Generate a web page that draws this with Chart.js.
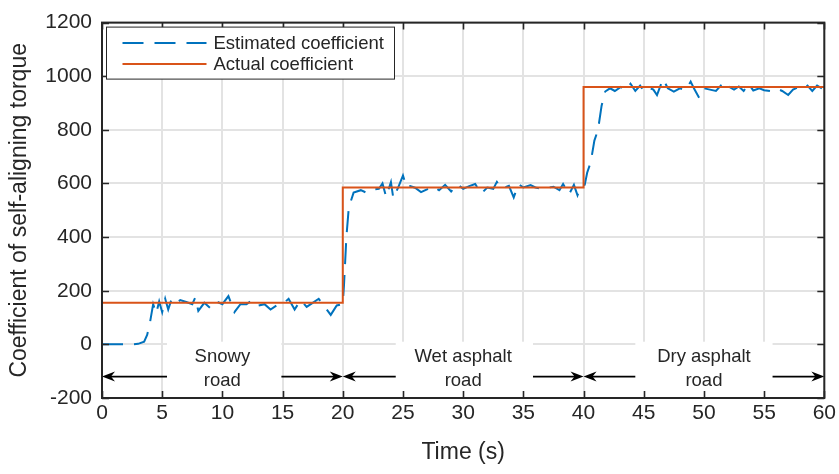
<!DOCTYPE html>
<html>
<head>
<meta charset="utf-8">
<script src="https://cdn.jsdelivr.net/npm/chart.js@4.4.1/dist/chart.umd.min.js"></script>
<style>
  html, body { margin: 0; padding: 0; background: #ffffff; }
  #wrap { width: 839px; height: 474px; position: relative; }
</style>
</head>
<body>
<div id="wrap"><canvas id="c" width="839" height="474"></canvas></div>
<script>
// ---------- data ----------
const estTimes = [0,0.5,1,1.5,2,2.5,3,3.5,3.75,4,4.25,4.5,4.75,5,5.25,5.5,5.75,6,6.5,7,7.5,7.75,8,8.5,9,9.5,10,10.5,11,11.5,12,12.5,13,13.5,14,14.5,15,15.5,16,16.5,17,17.5,18,18.5,19,19.5,20,
  20.1,20.3,20.5,20.9,21.5,22,22.5,23,23.3,23.6,24,24.2,24.6,25,25.3,25.6,26,26.5,27,27.5,28,28.5,29,29.5,30,30.5,31,31.5,32,32.5,32.8,33.2,33.8,34.2,34.6,35,35.6,36,36.5,37,37.5,38,38.3,38.8,39.2,39.5,39.8,40.1,
  40.3,40.6,40.9,41.2,41.5,41.8,42.2,42.6,43.1,43.5,43.9,44.3,44.7,45,45.4,45.8,46.1,46.6,47,47.5,48,48.5,48.9,49.2,49.6,50,50.5,51,51.4,51.7,52.1,52.5,52.9,53.3,53.7,54.1,54.6,55,55.5,56,56.5,57,57.4,57.8,58.2,58.6,59,59.4,59.8,60];
const estValues = [0,0,0,0,0,0,2,10,35,85,150,115,160,120,170,130,165,150,165,158,150,175,125,155,135,160,150,180,120,150,150,165,145,150,130,145,150,170,130,165,140,155,170,140,110,145,150,
  220,400,510,566,575,565,578,580,600,550,605,545,585,630,585,590,584,568,578,590,575,595,570,598,580,590,598,562,585,580,606,580,591,548,598,585,594,585,580,584,588,575,598,560,595,556,591,595,
  640,680,760,800,890,943,955,945,960,948,972,945,965,945,958,950,930,990,955,943,955,948,980,952,920,955,950,945,965,943,960,950,962,945,972,947,955,948,945,955,945,930,950,958,952,965,945,965,955,955];

const actualTimes = [0, 20, 40, 60];
const actualValues = [155, 585, 960, 960];

const xTicks = [0,5,10,15,20,25,30,35,40,45,50,55,60];
const yTicks = [-200,0,200,400,600,800,1000,1200];

const roadBounds = [[0,20],[20,40],[40,60]];
const roadLabels = [["Snowy","road"],["Wet asphalt","road"],["Dry asphalt","road"]];
const roadArrowValue = -120;

const seriesNames = ["Estimated coefficient", "Actual coefficient"];

// ---------- styles ----------
const BLUE = '#0072BD';
const RED = '#D95319';
const AX = '#262626';
const FONT = "'Liberation Sans', Arial, Helvetica, sans-serif";

const estData = estTimes.map((t, i) => ({x: t, y: estValues[i]}));
const actData = actualTimes.map((t, i) => ({x: t, y: actualValues[i]}));

function drawArrowHead(ctx, x, y, dir) {
  const L = 13, W = 5, N = 4;
  ctx.beginPath();
  ctx.moveTo(x, y);
  ctx.lineTo(x - dir * L, y - W);
  ctx.lineTo(x - dir * (L - N), y);
  ctx.lineTo(x - dir * L, y + W);
  ctx.closePath();
  ctx.fill();
}

const roadPlugin = {
  id: 'roadAnnot',
  beforeDatasetsDraw(chart, args, opts) {
    const {ctx, chartArea} = chart;
    const xs = chart.scales.x, ys = chart.scales.y;
    const ay = ys.getPixelForValue(roadArrowValue);
    ctx.save();
    ctx.strokeStyle = '#000';
    ctx.fillStyle = '#000';
    ctx.lineWidth = 1.8;
    roadBounds.forEach(([a, b]) => {
      const x0 = xs.getPixelForValue(a), x1 = xs.getPixelForValue(b);
      ctx.beginPath();
      ctx.moveTo(x0 + 6, ay);
      ctx.lineTo(x1 - 6, ay);
      ctx.stroke();
      drawArrowHead(ctx, x0, ay, -1);
      drawArrowHead(ctx, x1, ay, 1);
    });
    const top = ys.getPixelForValue(opts.boxTopValue);
    ctx.fillStyle = '#ffffff';
    opts.boxes.forEach(([a, b]) => {
      const x0 = xs.getPixelForValue(a), x1 = xs.getPixelForValue(b);
      ctx.fillRect(x0, top, x1 - x0, chartArea.bottom - top);
    });
    ctx.fillStyle = AX;
    ctx.font = '18.5px ' + FONT;
    ctx.textAlign = 'center';
    ctx.textBaseline = 'middle';
    roadLabels.forEach((lines, i) => {
      const [a, b] = roadBounds[i];
      const cx = xs.getPixelForValue((a + b) / 2);
      lines.forEach((ln, j) => {
        ctx.fillText(ln, cx, opts.firstLineY + j * opts.lineGap);
      });
    });
    ctx.restore();
  }
};

const framePlugin = {
  id: 'frame',
  afterDraw(chart) {
    const {ctx, chartArea: ca} = chart;
    const xs = chart.scales.x, ys = chart.scales.y;
    ctx.save();
    ctx.strokeStyle = AX;
    ctx.lineWidth = 1.6;
    const tl = 7;
    ctx.beginPath();
    xTicks.forEach(v => {
      const px = Math.round(xs.getPixelForValue(v)) + 0.5;
      ctx.moveTo(px, ca.bottom); ctx.lineTo(px, ca.bottom - tl);
      ctx.moveTo(px, ca.top); ctx.lineTo(px, ca.top + tl);
    });
    yTicks.forEach(v => {
      const py = Math.round(ys.getPixelForValue(v)) + 0.5;
      ctx.moveTo(ca.left, py); ctx.lineTo(ca.left + tl, py);
      ctx.moveTo(ca.right, py); ctx.lineTo(ca.right - tl, py);
    });
    ctx.stroke();
    ctx.lineWidth = 2;
    ctx.strokeRect(ca.left, ca.top, ca.right - ca.left, ca.bottom - ca.top);

    // legend
    const lx = ca.left + 4.5, ly = ca.top + 4.5, lw = 288, lh = 52;
    ctx.fillStyle = '#ffffff';
    ctx.fillRect(lx, ly, lw, lh);
    ctx.lineWidth = 1;
    ctx.strokeStyle = AX;
    ctx.strokeRect(lx, ly, lw, lh);
    const rows = [ly + 16, ly + 37];
    const colors = [BLUE, RED];
    const dashes = [[21, 11], []];
    rows.forEach((ry, i) => {
      ctx.beginPath();
      ctx.setLineDash(dashes[i]);
      ctx.strokeStyle = colors[i];
      ctx.lineWidth = 2;
      ctx.moveTo(lx + 16, ry);
      ctx.lineTo(lx + 100, ry);
      ctx.stroke();
      ctx.setLineDash([]);
      ctx.fillStyle = AX;
      ctx.font = '18.5px ' + FONT;
      ctx.textAlign = 'left';
      ctx.textBaseline = 'middle';
      ctx.fillText(seriesNames[i], lx + 107, ry + 1);
    });
    ctx.restore();
  }
};

new Chart(document.getElementById('c'), {
  type: 'line',
  data: {
    datasets: [
      {
        label: seriesNames[0],
        data: estData,
        borderColor: BLUE,
        borderWidth: 2,
        borderDash: [21, 11],
        pointRadius: 0,
        tension: 0,
        fill: false,
        order: 2
      },
      {
        label: seriesNames[1],
        data: actData,
        borderColor: RED,
        borderWidth: 2,
        stepped: 'before',
        pointRadius: 0,
        fill: false,
        order: 1
      }
    ]
  },
  options: {
    responsive: false,
    animation: false,
    devicePixelRatio: 1,
    layout: { padding: { top: 12, right: 12, left: 0, bottom: 0 } },
    plugins: {
      legend: { display: false },
      tooltip: { enabled: false },
      roadAnnot: {
        boxes: [[5.4, 14.9], [24.4, 35.8], [44.3, 55.7]],
        boxTopValue: 10,
        firstLineY: 357,
        lineGap: 24
      }
    },
    scales: {
      x: {
        type: 'linear',
        min: 0, max: 60,
        afterFit(s) { s.height = 76; },
        afterBuildTicks(s) { s.ticks = xTicks.map(v => ({value: v})); },
        grid: { color: '#e3e3e3', lineWidth: 2, drawTicks: false },
        border: { display: false },
        ticks: { color: AX, font: { family: FONT, size: 21 }, padding: 3, maxRotation: 0, autoSkip: false, callback: v => String(v) },
        title: { display: true, text: 'Time (s)', color: AX, font: { family: FONT, size: 23 }, padding: { top: 0, bottom: 8 } }
      },
      y: {
        type: 'linear',
        min: -200, max: 1200,
        afterFit(s) { s.width = 102; },
        afterBuildTicks(s) { s.ticks = yTicks.map(v => ({value: v})); },
        grid: { color: '#e3e3e3', lineWidth: 2, drawTicks: false },
        border: { display: false },
        ticks: { color: AX, font: { family: FONT, size: 21 }, padding: 10, autoSkip: false, callback: v => String(v) },
        title: { display: true, text: 'Coefficient of self-aligning torque', color: AX, font: { family: FONT, size: 23 }, padding: { top: 6, bottom: 0 } }
      }
    }
  },
  plugins: [roadPlugin, framePlugin]
});
</script>
</body>
</html>
